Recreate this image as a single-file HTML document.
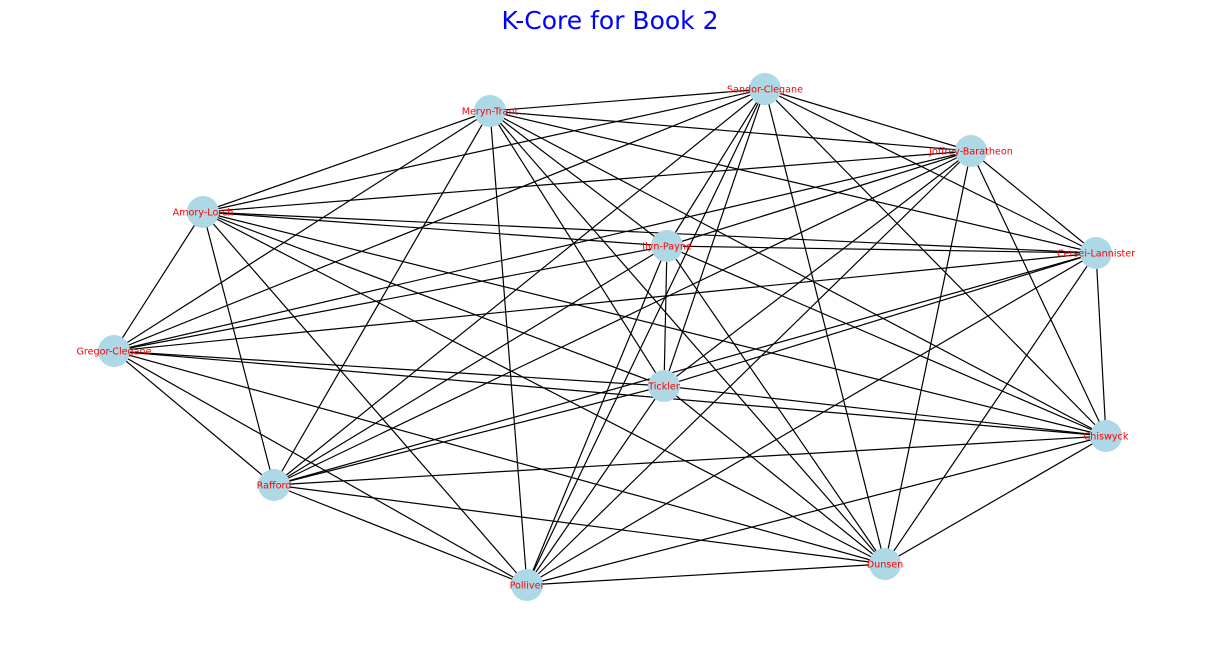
<!DOCTYPE html>
<html><head><meta charset="utf-8"><style>
body{margin:0;background:#fff;}
svg{display:block;}
</style></head><body>
<svg id="chart" width="1220" height="647">
<text x="610" y="29" text-anchor="middle" font-size="25" fill="#0000ff" font-family="DejaVu Sans, Liberation Sans, sans-serif">K-Core for Book 2</text>
<g id="edges"></g>
<g id="nodes"></g>
</svg>
<script>
const nodeNames = ["Sandor-Clegane","Meryn-Trant","Joffrey-Baratheon","Amory-Lorch","Ilyn-Payne","Cersei-Lannister","Gregor-Clegane","Tickler","Chiswyck","Rafford","Polliver","Dunsen"];
const nodeX = [765,490,971,203,667,1096,114,664,1106,274,527,885];
const nodeY = [89,111,151,212,246,253,351,386,436,485,585,564];
const edgeList = [];
for (let i = 0; i < nodeNames.length; i++) for (let j = i + 1; j < nodeNames.length; j++) edgeList.push([i, j]);
const NS = "http://www.w3.org/2000/svg";
const eg = document.getElementById("edges"), ng = document.getElementById("nodes");
edgeList.forEach(([a, b]) => {
  const l = document.createElementNS(NS, "line");
  l.setAttribute("x1", nodeX[a]); l.setAttribute("y1", nodeY[a]);
  l.setAttribute("x2", nodeX[b]); l.setAttribute("y2", nodeY[b]);
  l.setAttribute("stroke", "#000"); l.setAttribute("stroke-width", "1.2");
  
  
  eg.appendChild(l);
});
nodeNames.forEach((n, i) => {
  const c = document.createElementNS(NS, "circle");
  c.setAttribute("cx", nodeX[i]); c.setAttribute("cy", nodeY[i]); c.setAttribute("r", "16");
  c.setAttribute("fill", "#add8e6");
  
  
  ng.appendChild(c);
  const t = document.createElementNS(NS, "text");
  t.setAttribute("x", nodeX[i]); t.setAttribute("y", nodeY[i] + 3.3);
  t.setAttribute("text-anchor", "middle"); t.setAttribute("font-size", "9.6");
  t.setAttribute("font-family", "DejaVu Sans, Liberation Sans, sans-serif");
  t.setAttribute("fill", "#ff0000");
  t.textContent = n;
  
  
  ng.appendChild(t);
});
</script>
</body></html>
